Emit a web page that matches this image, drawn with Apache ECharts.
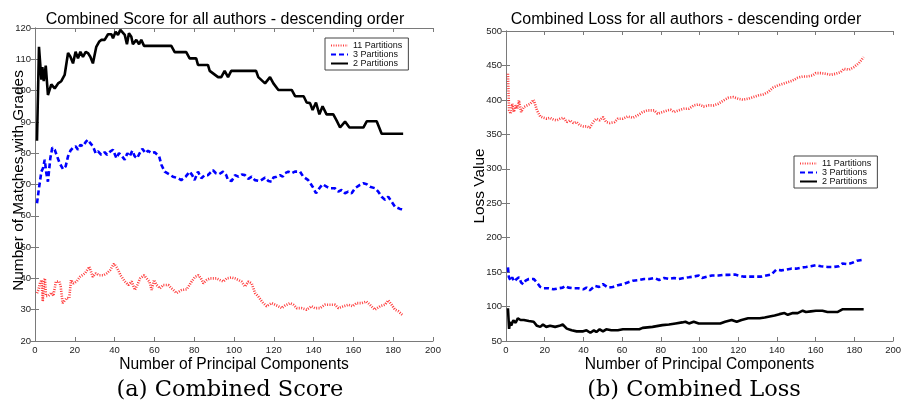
<!DOCTYPE html>
<html><head><meta charset="utf-8">
<script src="https://cdn.jsdelivr.net/npm/echarts@6/dist/echarts.min.js"></script>
<style>html,body{margin:0;padding:0;background:#fff}#c{width:904px;height:403px}</style>
</head><body><div id="c"></div>
<script>
const seriesNames = ['11 Partitions', '3 Partitions', '2 Partitions'];
const titles = ['Combined Score for all authors - descending order', 'Combined Loss for all authors - descending order'];
const captions = ['(a) Combined Score', '(b) Combined Loss'];
const xName = 'Number of Principal Components';
const yNames = ['Number of Matches with Grades', 'Loss Value'];

// (a) Combined Score
const score11X = [1,1.7,2.5,3.3,3.9,4.5,5,5.5,6.7,8.4,9.2,10.5,12.2,12.9,13.9,14.6,15.9,17.2,18.1,19.3,20.9,22.6,25.1,27.3,29,30.6,32.3,34.3,36,37.7,39.7,41.4,43,45.2,46.9,48.6,50.2,51.4,52.8,54.8,56.1,57.5,58.6,59.8,61.1,62.8,64.5,67,68.7,71.2,73.7,76.2,78.7,80.4,82.1,83.4,84.6,86.3,87.9,91.3,92.9,94.6,96.3,98.8,100.5,102.2,103.8,105.5,107.2,108.9,110.6,112.2,114.7,116.4,118.9,120.6,122.3,124,125.6,128.1,129.8,131.5,134,136.5,139,140.7,143.2,145.7,148.3,150.8,152.4,155,157.5,159.6,161.6,164.1,166.6,168.3,170.8,173.4,175.9,177.5,179.2,180.9,182.6,185];
const score11Y = [35.3,36.3,38.4,39.5,32.6,39,40,34.4,34.4,35.5,34.4,39,39,37.4,32.1,31.6,33.7,33.7,39.5,38.4,39,40.5,41.6,43.7,40.5,41.6,41,41,41.6,42.6,44.7,43.2,41,39,37.9,39,36.3,37.9,40,41,40,39,36.3,39.5,37.9,36.8,37.9,37.9,36.8,35.3,36.3,36.5,39,40.5,41,40,38.4,39.5,40,40,39.5,39,40,40.3,40,39.5,39,37.4,39,38.4,35.3,34.2,32.1,31.1,32.1,31.6,31.1,30.5,31.3,32.1,31.6,30.5,30.5,30,31.1,30.5,30.5,31.6,31.6,31.6,30.5,31.1,31.6,31.1,32.1,32.1,32.6,31.6,30,31.1,31.6,33,31.6,30,29.5,28.1];

const score3X = [1,2,3.2,4,4.9,5.7,6.5,7.7,8.7,9.9,11.1,12.4,14.1,15.4,16.6,17.8,19.1,20.4,21.6,22.8,24.1,25.5,26.6,27.8,29.1,30.5,31.7,33.3,35,36.2,37.9,39.2,40.9,42.2,43.4,45.1,46.4,47.6,48.9,50.1,51.3,52.6,53.9,55.6,56.8,58.5,60.1,62.4,63.5,65.2,67.3,69.3,71.9,73.5,75.7,77.7,79,80.2,81.9,83.6,85.3,86.9,89.4,90.9,92.5,94.5,96.1,97,98.8,100.5,102.2,103.9,105.5,107.2,108.9,110.5,113,115.6,117.3,118.9,119.8,121.4,123.1,124.5,125.6,127.3,129,130.6,133.2,134.8,137.3,139.5,141.2,142.9,144.5,146.5,148.2,150.7,152.4,154.1,155.8,157.4,159.1,160.8,163.3,165,166.7,168.3,170.9,172.5,174.2,175.9,177.5,179.2,180.9,183.4,185];
const score3Y = [64,68.8,74.1,75.2,77.9,73.6,70.9,78.4,81.8,81.1,79,76.8,74.9,75.8,79,80.8,81.8,82.2,81.1,82.7,82.2,83.6,84.3,83.2,82.2,80,80.6,79.5,80.3,79.5,80.6,81.1,78.4,80,79.3,77.9,80,79,80.8,79,78.4,80,81.4,80,80.8,80,80.3,79,76.3,74.1,73.3,72.5,72,71.4,72.5,74.1,73,71.4,74.1,72,73,73,74.6,73.6,73.3,74.1,73,71.4,71.1,73,72.5,73.2,73,71.8,72.5,71.4,71.1,72.2,71.1,70.9,72.2,72.5,73,72.5,73.6,74.1,73.6,74.1,74.1,72.5,71.4,69.3,67.2,68.8,70.1,69.3,68.8,68.8,67.7,68.3,67.2,67.7,67.2,68.8,69.9,70.4,70.1,69.3,68.8,67.7,66.1,65.1,66.1,64.5,62.9,62.2,62];

const score2X = [1,2,3.2,3.7,4.4,5.4,6.5,8.2,9.9,11.6,13.2,14.9,16.6,17.8,19.1,20.4,21.6,22.8,24.1,25.5,26.6,27.8,29.1,30.8,32.2,33.3,35,36.7,38.4,39.2,40.5,41.7,42.9,43.9,45.1,46.2,47.2,48.4,49.2,50.9,52.3,53.4,54.8,68.5,70.2,76,77.7,81,81.9,86.9,87.8,92,93.6,95.3,97,98.6,111.1,112.2,115.6,118.1,119.8,122.3,129,130.7,135,136.5,138.2,139.5,141.2,142.9,144.5,146.5,149.9,151.6,153.3,155.8,158,165,166.7,171.7,174.2,185];
const score2Y = [84,114,103.5,107.5,103,108,98.6,102,100.7,102.3,103,105,112,110.8,108.7,112.4,110.3,112.4,110.8,112.4,112,110.8,108.7,114,115.6,116.2,116.2,118,118,116.7,118.8,117.8,119.4,120,117.8,114.8,118.3,117.2,114.8,116.2,114.8,116.2,114.3,114.3,112.3,112.3,110.3,110.3,108.2,108.2,106.3,104.3,104.3,106.3,104.3,106.3,106.3,104.3,102.3,104.3,102.3,100.2,100.2,98.2,98.2,96.2,96,93.8,96.2,92.4,95,92.4,92.4,90.4,88.2,90.1,88.2,88.2,90.2,90.2,86.2,86.2];

// (b) Combined Loss
const loss11X = [1,1.6,2.4,3.2,4.1,5,5.8,6.7,7.8,9.2,10.9,12.6,14.3,16,17.7,19.4,21.1,22.8,24.6,26.3,28,29.7,31.4,33.1,34.8,36.5,38.2,39.9,41.6,43.3,45,46.7,48.4,50.1,51.8,53.5,56.1,57.8,60.4,62.9,65.5,68,70.6,73.1,76.6,78.3,80.8,83.4,85.1,86.8,89.3,91.9,94.5,97,99.6,102.1,104.7,107.2,109.8,112.4,114.9,117.5,120,122.6,125.1,127.7,130.3,132.8,135.4,137.9,140.5,143.1,145.6,148.2,150.7,153.3,155.8,158.4,160.1,162.7,165.2,167.8,170.3,172.9,174.6,177.2,179.7,182.3,184.8];
const loss11Y = [438,384.8,380,394.4,382.3,392,387.2,399.2,382.3,389.6,392,394.4,400.2,384.8,376,374,372.7,374,371.2,370.3,372.7,374,367.8,370.3,366.4,367.8,363,361.6,361.6,359.6,367.8,372.7,370.3,375.1,367.8,366.4,367.8,372.7,372.7,376,374,377.5,382.3,384.8,384.8,380,382.3,384.8,385.7,382.3,384.8,387.2,387.2,392,393.4,390.5,392,392,394.4,399.2,403.1,404.1,401.7,400.2,401.7,404.1,406.5,407.9,411.3,417.6,421,423.4,425.8,428.2,432.1,434,434,435.5,438.9,438.9,437.9,436.4,437.9,440.3,445.1,443.7,447.5,453.3,462];

const loss3X = [1,1.5,2.4,3.2,4.1,5.5,6.7,7.8,8.9,10.1,11.8,14.3,16,17.7,19.4,22,24.6,27.1,29.3,30.5,32.2,34.8,37.3,39.9,41.6,43.3,45.9,48.1,50.1,52.7,55.2,57.8,60.4,62.9,65.5,68.9,71.4,74,76.6,79.1,81.7,84.2,86.8,89.3,91.9,94.5,97,99.6,101.3,103.8,106.4,109.8,112.4,114.9,118.3,120,122.6,126,129.4,132,134.5,137.1,139.6,142.2,144.8,147.3,149.9,152.4,155,157.5,160.1,162.7,166.1,169.5,172,173.8,176.3,178.9,181.4,184.8];
const loss3Y = [157,142.5,137.5,142.5,136.5,140,142.5,135,132.5,137.5,140,140,135,128.5,126.5,126.5,125,126.5,127.5,130,127.5,126.5,126.5,125,127.5,123.5,130,128.5,132.5,127.5,128.5,131,132.5,135,137.5,138.5,140,140,141.5,138.5,141.5,140,141.5,140,141.5,142.5,143.5,145,141.5,143.5,145,145,146,146,146.5,145,143.5,143.5,143.5,143.5,145,146.5,153.5,152.5,153.5,155,155,156.5,157.5,158.5,160,158.5,157.5,157.5,158.5,162.5,161.5,163.5,166.5,168];

const loss2X = [1,1.6,2.05,2.7,3.8,5,6.1,7.5,9.2,11.8,14.3,16,17.7,19.1,20.8,22.8,25.4,27.6,29.3,31.4,33.9,36.5,39.9,41.6,43.6,45.4,46.7,48.4,50.1,51.8,54.4,57.8,60.4,68.9,70.6,75.7,80.8,84.2,87.6,91,92.7,94.5,97,99.6,110.7,113.2,116.6,119.2,121.7,125.1,131.1,133.7,136.2,138.8,141.3,143.9,145.6,148.2,150.7,153.3,155,157.5,160.1,163.5,166.1,171.2,173.8,184.8];
const loss2Y = [97.5,67.5,77.5,72.5,80,76.5,83,80.5,80.5,79,78,72,70.5,74,70.5,72,70.5,72,74,68,65.5,64,64,65.5,62,65.5,63,67,64,67,65.5,65.5,67,67,69,70.5,73,74,75.5,77,78,75.5,78,75.5,75.5,78,80.5,78,80.5,83,83,84,85.5,87,89,90.5,88,90.5,90.5,94,92,93,94,94,92,92,96,96];

function pairs(xs, ys) { return xs.map((x, i) => [x, ys[i]]); }

const FONT = 'Liberation Sans, Arial, Helvetica, sans-serif';
const SERIF = 'DejaVu Serif, serif';
const styles = [
  { color: '#ff1a1a', width: 2.6, type: [1, 1.4], opacity: 0.85 },
  { color: '#0000ff', width: 2.6, type: [5, 3] },
  { color: '#000000', width: 2.6, type: 'solid' }
];

function mkSeries(name, idx, data, gi) {
  return {
    name: name, type: 'line', xAxisIndex: gi * 2, yAxisIndex: gi * 2,
    data: data, showSymbol: false, symbol: 'none', smooth: false,
    lineStyle: styles[idx], itemStyle: { color: styles[idx].color, opacity: 0 },
    animation: false, z: 3 - idx
  };
}

const axisLineStyle = { lineStyle: { color: '#7a7a7a', width: 1 } };
function mkX(gi, top) {
  return {
    type: 'value', gridIndex: gi, min: 0, max: 200, interval: 20,
    position: top ? 'top' : 'bottom',
    name: top ? '' : xName, nameLocation: 'middle', nameGap: 16, nameMoveOverlap: false,
    nameTextStyle: { fontFamily: FONT, fontSize: 15.6, color: '#000' },
    axisLine: axisLineStyle,
    axisTick: { inside: true, length: 4, lineStyle: { color: '#7a7a7a' } },
    axisLabel: { show: !top, fontFamily: FONT, fontSize: 9.5, color: '#222', margin: 4 },
    splitLine: { show: false }
  };
}
function mkY(gi, right, min, max, interval, nameGap, namePad) {
  return {
    type: 'value', gridIndex: gi, min: min, max: max, interval: interval,
    position: right ? 'right' : 'left',
    name: right ? '' : yNames[gi], nameLocation: 'middle', nameGap: nameGap, nameMoveOverlap: false,
    nameTextStyle: { fontFamily: FONT, fontSize: 15.4, color: '#000', padding: namePad || 0 },
    axisLine: axisLineStyle,
    axisTick: { inside: true, length: 4, lineStyle: { color: '#7a7a7a' } },
    axisLabel: { show: !right, fontFamily: FONT, fontSize: 9.5, color: '#222', margin: 4 },
    splitLine: { show: false }
  };
}

const legendCommon = {
  orient: 'vertical', data: seriesNames, itemWidth: 17, itemHeight: 10, itemGap: 0,
  padding: [3, 6, 2, 5], borderColor: '#444', borderWidth: 1, backgroundColor: '#fff',
  itemStyle: { opacity: 0 },
  textStyle: { fontFamily: FONT, fontSize: 9, color: '#111' }, selectedMode: false
};

const chart = echarts.init(document.getElementById('c'), null, { renderer: 'canvas' });
chart.setOption({
  backgroundColor: '#fff',
  animation: false,
  title: [
    { text: titles[0], left: 220, top: 7, textAlign: 'center', textStyle: { fontFamily: FONT, fontSize: 16, fontWeight: 'normal', color: '#000' } },
    { text: titles[1], left: 681, top: 7, textAlign: 'center', textStyle: { fontFamily: FONT, fontSize: 16, fontWeight: 'normal', color: '#000' } },
    { text: captions[0], left: 225, top: 374, textAlign: 'center', textStyle: { fontFamily: SERIF, fontSize: 22.5, fontWeight: 'normal', color: '#000' } },
    { text: captions[1], left: 689, top: 374, textAlign: 'center', textStyle: { fontFamily: SERIF, fontSize: 22.5, fontWeight: 'normal', color: '#000' } }
  ],
  legend: [
    Object.assign({ left: 325, top: 38 }, legendCommon),
    Object.assign({ left: 794, top: 156 }, legendCommon)
  ],
  grid: [
    { left: 35, top: 28, width: 398, height: 313 },
    { left: 506, top: 31, width: 391, height: 310 }
  ],
  xAxis: [mkX(0, false), mkX(0, true), mkX(1, false), mkX(1, true)],
  yAxis: [mkY(0, false, 20, 120, 10, 9, [0, 0, 0, 8]), mkY(0, true, 20, 120, 10, 0), mkY(1, false, 50, 500, 50, 19), mkY(1, true, 50, 500, 50, 0)],
  series: [
    mkSeries(seriesNames[0], 0, pairs(score11X, score11Y), 0),
    mkSeries(seriesNames[1], 1, pairs(score3X, score3Y), 0),
    mkSeries(seriesNames[2], 2, pairs(score2X, score2Y), 0),
    mkSeries(seriesNames[0], 0, pairs(loss11X, loss11Y), 1),
    mkSeries(seriesNames[1], 1, pairs(loss3X, loss3Y), 1),
    mkSeries(seriesNames[2], 2, pairs(loss2X, loss2Y), 1)
  ]
});
</script></body></html>
